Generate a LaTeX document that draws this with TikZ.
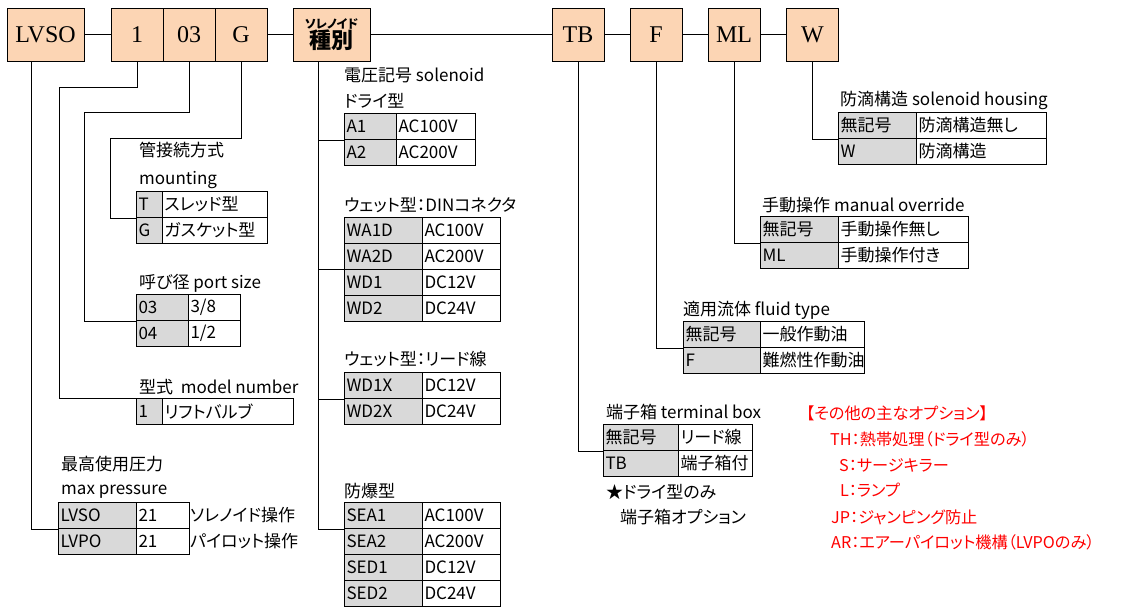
\documentclass[tikz,border=0pt]{standalone}
\usepackage{fontspec}
\setmainfont{Liberation Serif}
\newfontfamily\jpfont[RawFeature=+palt]{Noto Sans CJK JP}
\usepackage{tikz}
\usetikzlibrary{calc}
\definecolor{boxFill}{HTML}{FCD5B4}
\definecolor{keyFill}{HTML}{D9D9D9}
\definecolor{optRed}{HTML}{FF0000}

\begin{document}
\begin{tikzpicture}[x=1pt,y=-1pt,
codebox/.style={draw,fill=boxFill,line width=1pt,minimum height=53pt,inner sep=0,
    font=\fontsize{24}{24}\selectfont},
keycell/.style={draw,fill=keyFill,line width=1pt,anchor=north west,minimum height=26pt,
    inner xsep=2pt,inner ysep=0,align=left,font=\jpfont\fontsize{17}{20}\selectfont},
valcell/.style={keycell,fill=white},
title/.style={anchor=west,inner sep=2pt,font=\jpfont\fontsize{17}{20}\selectfont},
note/.style={title},
option/.style={anchor=west,inner sep=0,text=optRed,font=\jpfont\fontsize{16.2}{19}\selectfont},
wire/.style={line width=1pt}
]
\useasboundingbox (0,0) rectangle (1127,613);
% model code
\node[codebox,minimum width=77pt] (lvso) at (45.5,34.5) {LVSO};
\node[codebox,minimum width=52pt] (one) at (137,34.5) {1};
\node[codebox,minimum width=52pt] (n03) at (189,34.5) {03};
\node[codebox,minimum width=52pt] (g) at (241,34.5) {G};
\node[codebox,minimum width=77pt,align=center,font=\jpfont\bfseries] (kind) at (331.5,34.5)
    {{\fontsize{12}{13}\selectfont ソレノイド}\\[0pt]{\fontsize{22}{24}\selectfont 種別}};
\node[codebox,minimum width=52pt] (tb) at (578,34.5) {TB};
\node[codebox,minimum width=52pt] (f) at (656,34.5) {F};
\node[codebox,minimum width=52pt] (ml) at (734,34.5) {ML};
\node[codebox,minimum width=52pt] (w) at (812.5,34.5) {W};
\coordinate (lvsoDown) at ($(lvso.south west)!0.325!(lvso.south east)$);
\coordinate (kindDown) at ($(kind.south west)!0.338!(kind.south east)$);

% mounting
\node[title] (lblMnt) at (137,150) {管接続方式};
\node[title] (lblMnt2) at (137,180) {mounting};
\node[keycell,text width=22pt] (mntKey1) at (136,191) {T};
\node[valcell,text width=101pt] (mntVal1) at (162,191) {スレッド型};
\node[keycell,text width=22pt] (mntKey2) at (136,217) {G};
\node[valcell,text width=101pt] (mntVal2) at (162,217) {ガスケット型};

% port size
\node[title] (lblPs) at (137,283) {呼び径 port size};
\node[keycell,text width=48pt] (psKey1) at (136,294) {03};
\node[valcell,text width=48pt] (psVal1) at (188,294) {3/8};
\node[keycell,text width=48pt] (psKey2) at (136,320) {04};
\node[valcell,text width=48pt] (psVal2) at (188,320) {1/2};

% model number
\node[title] (lblMdl) at (137,387) {型式\ \ model number};
\node[keycell,text width=22pt] (mdlKey) at (136,398) {1};
\node[valcell,text width=127pt] (mdlVal) at (162,398) {リフトバルブ};

% max pressure
\node[title] (lblMp1) at (59,464) {最高使用圧力};
\node[title] (lblMp2) at (59,492) {max pressure};
\node[keycell,text width=74pt] (mpKey1) at (58,502) {LVSO};
\node[valcell,text width=49pt] (mpVal1) at (136,502) {21};
\node[keycell,text width=74pt] (mpKey2) at (58,528) {LVPO};
\node[valcell,text width=49pt] (mpVal2) at (136,528) {21};
\node[note] (mpNote1) at (188,515) {ソレノイド操作};
\node[note] (mpNote2) at (188,541) {パイロット操作};

% solenoid
\node[title] (lblDry1) at (342,75) {電圧記号 solenoid};
\node[title] (lblDry2) at (342,101) {ドライ型};
\node[keycell,text width=48pt] (dryKey1) at (344,113) {A1};
\node[valcell,text width=75pt] (dryVal1) at (396,113) {AC100V};
\node[keycell,text width=48pt] (dryKey2) at (344,139) {A2};
\node[valcell,text width=75pt] (dryVal2) at (396,139) {AC200V};

\node[title] (lblDin) at (342,205) {ウェット型：DINコネクタ};
\node[keycell,text width=74pt] (dinKey1) at (344,217) {WA1D};
\node[valcell,text width=74pt] (dinVal1) at (422,217) {AC100V};
\node[keycell,text width=74pt] (dinKey2) at (344,243) {WA2D};
\node[valcell,text width=74pt] (dinVal2) at (422,243) {AC200V};
\node[keycell,text width=74pt] (dinKey3) at (344,269) {WD1};
\node[valcell,text width=74pt] (dinVal3) at (422,269) {DC12V};
\node[keycell,text width=74pt] (dinKey4) at (344,295) {WD2};
\node[valcell,text width=74pt] (dinVal4) at (422,295) {DC24V};

\node[title] (lblLead) at (342,359) {ウェット型：リード線};
\node[keycell,text width=74pt] (leadKey1) at (344,372) {WD1X};
\node[valcell,text width=74pt] (leadVal1) at (422,372) {DC12V};
\node[keycell,text width=74pt] (leadKey2) at (344,398) {WD2X};
\node[valcell,text width=74pt] (leadVal2) at (422,398) {DC24V};

\node[title] (lblEx) at (342,491) {防爆型};
\node[keycell,text width=74pt] (exKey1) at (344,502) {SEA1};
\node[valcell,text width=74pt] (exVal1) at (422,502) {AC100V};
\node[keycell,text width=74pt] (exKey2) at (344,528) {SEA2};
\node[valcell,text width=74pt] (exVal2) at (422,528) {AC200V};
\node[keycell,text width=74pt] (exKey3) at (344,554) {SED1};
\node[valcell,text width=74pt] (exVal3) at (422,554) {DC12V};
\node[keycell,text width=74pt] (exKey4) at (344,580) {SED2};
\node[valcell,text width=74pt] (exVal4) at (422,580) {DC24V};

% solenoid housing
\node[title] (lblW) at (838,100) {防滴構造 solenoid housing};
\node[keycell,text width=74pt] (wKey1) at (838,112) {無記号};
\node[valcell,text width=126pt] (wVal1) at (916,112) {防滴構造無し};
\node[keycell,text width=74pt] (wKey2) at (838,138) {W};
\node[valcell,text width=126pt] (wVal2) at (916,138) {防滴構造};

% manual override
\node[title] (lblMl) at (760,205) {手動操作 manual override};
\node[keycell,text width=74pt] (mlKey1) at (760,216) {無記号};
\node[valcell,text width=126pt] (mlVal1) at (838,216) {手動操作無し};
\node[keycell,text width=74pt] (mlKey2) at (760,242) {ML};
\node[valcell,text width=126pt] (mlVal2) at (838,242) {手動操作付き};

% fluid type
\node[title] (lblF) at (681,310) {適用流体 fluid type};
\node[keycell,text width=73pt] (fKey1) at (683,321) {無記号};
\node[valcell,text width=100pt] (fVal1) at (760,321) {一般作動油};
\node[keycell,text width=73pt] (fKey2) at (683,347) {F};
\node[valcell,text width=100pt] (fVal2) at (760,347) {難燃性作動油};

% terminal box
\node[title] (lblTb) at (604,412) {端子箱 terminal box};
\node[keycell,text width=71pt] (tbKey1) at (603,424) {無記号};
\node[valcell,text width=70pt] (tbVal1) at (678,424) {リード線};
\node[keycell,text width=71pt] (tbKey2) at (603,450) {TB};
\node[valcell,text width=70pt] (tbVal2) at (678,450) {端子箱付};
\node[note] (tbNote1) at (604,492) {★ドライ型のみ};
\node[note] (tbNote2) at (618,517) {端子箱オプション};

% other options
\node[option] (optHead) at (806,413) {【その他の主なオプション】};
\node[option] (optTH) at (830,439) {TH：熱帯処理（ドライ型のみ）};
\node[option] (optS) at (839,465) {S：サージキラー};
\node[option] (optL) at (840,490) {L：ランプ};
\node[option] (optJP) at (831,517) {JP：ジャンピング防止};
\node[option] (optAR) at (831,542) {AR：エアーパイロット機構（LVPOのみ）};

\draw[wire] (lvso.east) -- (one.west) (g.east) -- (kind.west) (kind.east) -- (tb.west)
    (tb.east) -- (f.west) (f.east) -- (ml.west) (ml.east) -- (w.west);
\draw[wire] (lvsoDown) |- (mpKey1.south west);
\draw[wire] (one.south) |- (59,87) |- (mdlKey.north west);
\draw[wire] (n03.south) |- (84,112) |- (psKey1.south west);
\draw[wire] (g.south) |- (110,138) |- (mntKey1.south west);
\draw[wire] (kindDown) |- (dryKey1.south west) (kindDown) |- (dinKey3.north west)
    (kindDown) |- (leadKey1.south west) (kindDown) |- (exKey1.south west);
\draw[wire] (tb.south) |- (tbKey1.south west);
\draw[wire] (f.south) |- (fKey1.south west);
\draw[wire] (ml.south) |- (mlKey1.south west);
\draw[wire] (w.south) |- (wKey1.south west);
\end{tikzpicture}
\end{document}
